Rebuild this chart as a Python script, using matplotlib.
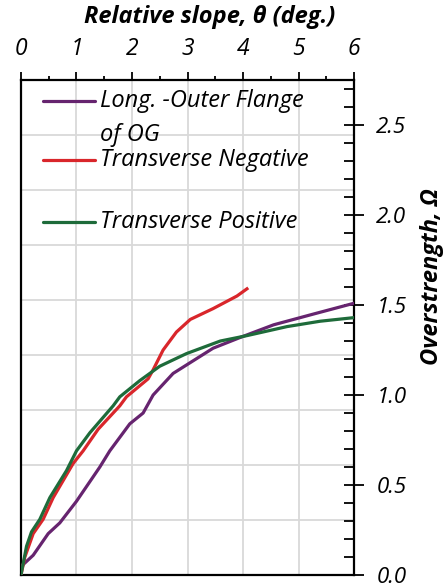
import matplotlib.pyplot as plt
from matplotlib.ticker import MultipleLocator

plt.rcParams['font.family'] = ['Open Sans', 'DejaVu Sans']

# Long. - outer flange of OG
long_x = [0, 0.01, 0.22, 0.49, 0.70, 1.0, 1.42, 1.60, 1.96, 2.2, 2.38, 2.74, 3.10, 3.46, 3.95, 4.55, 5.27, 6.0]
long_y = [0, 0.05, 0.11, 0.23, 0.29, 0.41, 0.60, 0.69, 0.84, 0.90, 1.00, 1.12, 1.19, 1.26, 1.32, 1.39, 1.45, 1.51]

# Transverse negative
neg_x = [0, 0.07, 0.22, 0.40, 0.58, 0.94, 1.12, 1.39, 1.60, 1.78, 1.90, 2.29, 2.38, 2.56, 2.80, 3.05, 3.46, 3.89, 4.07]
neg_y = [0, 0.10, 0.23, 0.31, 0.43, 0.62, 0.69, 0.81, 0.88, 0.94, 0.99, 1.09, 1.14, 1.25, 1.35, 1.42, 1.48, 1.55, 1.59]

# Transverse positive
pos_x = [0, 0.10, 0.19, 0.34, 0.52, 0.82, 1.0, 1.24, 1.66, 1.78, 2.14, 2.50, 2.98, 3.59, 4.07, 4.79, 5.39, 6.0]
pos_y = [0, 0.16, 0.24, 0.31, 0.43, 0.58, 0.69, 0.79, 0.94, 0.99, 1.08, 1.16, 1.23, 1.30, 1.33, 1.38, 1.41, 1.43]

labels = ['Long. -Outer Flange', 'Transverse Negative', 'Transverse Positive']
colors = ['#66246f', '#d9262b', '#1e6b3a']

fig = plt.figure(figsize=(4.46, 5.88), dpi=100)
ax = fig.add_axes([0.047, 0.022, 0.747, 0.842])

ax.plot(long_x, long_y, color=colors[0], lw=2.3, zorder=3)
ax.plot(neg_x, neg_y, color=colors[1], lw=2.3, zorder=3)
ax.plot(pos_x, pos_y, color=colors[2], lw=2.3, zorder=3)

ax.set_xlim(0, 6)
ax.set_ylim(0, 2.75)

# grid
for gx in range(1, 6):
    ax.axvline(gx, color='#d9d9d9', lw=1.3, zorder=1)
for k in range(1, 9):
    ax.axhline(k * 2.75 / 9, color='#d9d9d9', lw=1.3, zorder=1)

# axes on top and right
ax.xaxis.set_ticks_position('top')
ax.xaxis.set_label_position('top')
ax.yaxis.set_ticks_position('right')
ax.yaxis.set_label_position('right')
ax.xaxis.set_major_locator(MultipleLocator(1))
ax.xaxis.set_minor_locator(MultipleLocator(0.5))
ax.yaxis.set_minor_locator(MultipleLocator(0.1))
ax.tick_params(axis='x', which='major', direction='out', length=6, width=1.3, pad=8, labelsize=16.5)
ax.tick_params(axis='x', which='minor', direction='out', length=3, width=1.3)
ax.tick_params(axis='y', which='major', direction='inout', length=14, width=1.3, pad=9, labelsize=16)
ax.tick_params(axis='y', which='minor', direction='in', length=7, width=1.3)
ax.set_yticks([0, 0.5, 1.0, 1.5, 2.0, 2.5])
ax.set_yticklabels(['0.0', '0.5', '1.0', '1.5', '2.0', '2.5'])
for lab in ax.get_xticklabels() + ax.get_yticklabels():
    lab.set_fontstyle('italic')
for sp in ax.spines.values():
    sp.set_linewidth(1.6)

ax.set_xlabel('Relative slope, θ (deg.)', fontsize=17, fontweight='bold', fontstyle='italic')
ax.xaxis.set_label_coords(0.565, 1.115)
ax.set_ylabel('Overstrength, Ω', fontsize=17, fontweight='bold', fontstyle='italic')
ax.yaxis.set_label_coords(1.198, 0.602)

# legend, drawn by hand to keep the Excel spacing
leg_y = [0.958, 0.838, 0.713]
for lab, c, yy in zip(labels, colors, leg_y):
    ax.plot([0.066, 0.222], [yy, yy], transform=ax.transAxes, color=c, lw=2.3, solid_capstyle='round')
    ax.text(0.237, yy, lab, transform=ax.transAxes, fontsize=17, fontstyle='italic', va='center')
ax.text(0.237, 0.889, 'of OG', transform=ax.transAxes, fontsize=17, fontstyle='italic', va='center')

fig.savefig('out.png', dpi=100)
